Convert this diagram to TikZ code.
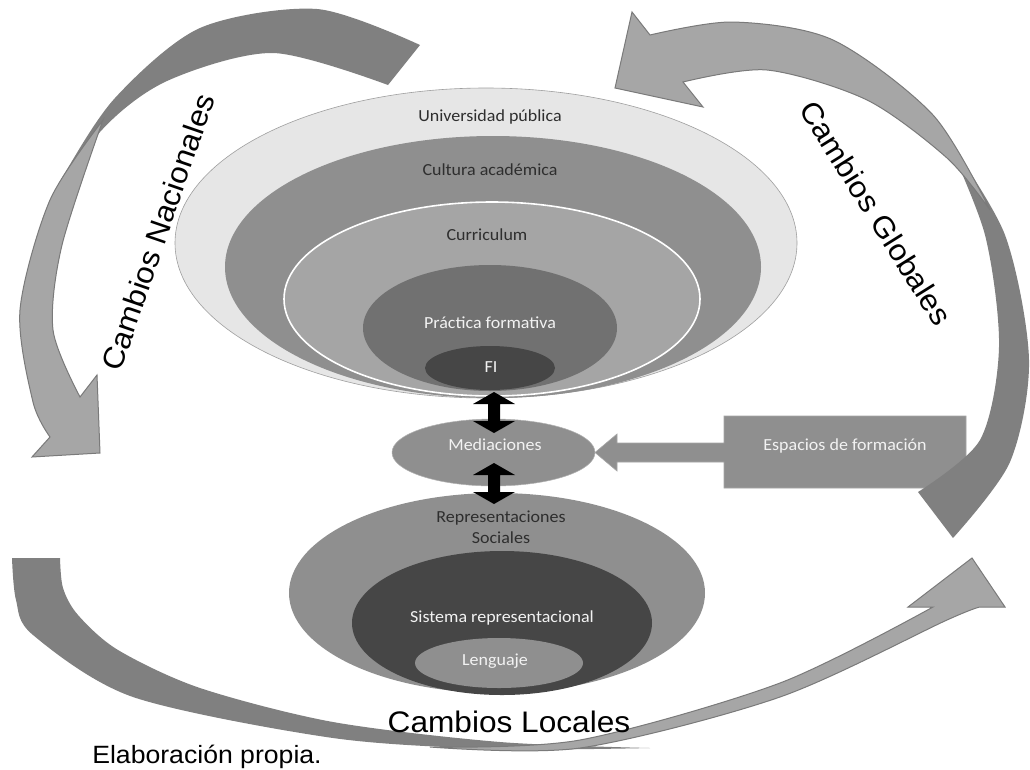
\documentclass[tikz,border=0pt]{standalone}
\usepackage{fontspec}
\usepackage{graphicx}
\setmainfont{Liberation Sans}
\newfontfamily\calibfont{Carlito}
\usetikzlibrary{shapes.geometric}

\definecolor{bandDark}{HTML}{808080}
\definecolor{bandLight}{HTML}{A6A6A6}
\definecolor{bandLine}{HTML}{7A7A7A}
\definecolor{ringPale}{HTML}{E6E6E6}
\definecolor{ringMid}{HTML}{8F8F8F}
\definecolor{ringSoft}{HTML}{A5A5A5}
\definecolor{ringDeep}{HTML}{717171}
\definecolor{ringCore}{HTML}{464646}
\definecolor{inkDark}{HTML}{2E2E2E}
\definecolor{inkLight}{HTML}{F2F2F2}

% slightly widened lettering
\newcommand\wide[1]{\scalebox{1.065}[1]{#1}}

\tikzset{
  ring/.style={ellipse, inner sep=0pt, draw=none},
  lbl/.style={font=\calibfont\fontsize{16.9}{21}\selectfont, inner sep=0pt, anchor=base, align=center},
  dlbl/.style={lbl, text=inkDark},
  llbl/.style={lbl, text=inkLight},
  biglbl/.style={font=\fontsize{29.7}{34}\selectfont, inner sep=0pt, text=black},
  backband/.style={fill=bandDark},
  frontband/.style={fill=bandLight, draw=bandLine, line width=1pt, line join=miter},
  blockarrow/.style={fill=black},
}

\begin{document}
\begin{tikzpicture}[x=1pt, y=-1pt]
\useasboundingbox (0,0) rectangle (1030,769);
\fill[white] (0,0) rectangle (1030,769);

% ---- upper nested rings ----
\node[ring, fill=ringPale, draw=gray!75, line width=0.6pt, minimum width=622pt, minimum height=310pt] (uni) at (486,243) {};
\node[ring, fill=ringMid, minimum width=536pt, minimum height=262pt] (cul) at (493,267) {};
\node[ring, fill=ringSoft, draw=white, line width=1.6pt, minimum width=416pt, minimum height=194pt] (cur) at (492,299) {};
\node[ring, fill=ringDeep, minimum width=254pt, minimum height=126pt] (pra) at (490,328) {};
\node[ring, fill=ringCore, minimum width=130pt, minimum height=44pt] (fi) at (490,368) {};

\node[dlbl] (tuni) at (490,121) {\wide{Universidad pública}};
\node[dlbl] (tcul) at (490,175) {\wide{Cultura académica}};
\node[dlbl] (tcur) at (487,240) {\wide{Curriculum}};
\node[llbl] (tpra) at (490,328) {\wide{Práctica formativa}};
\node[llbl] (tfi) at (491,372) {\wide{FI}};

% ---- mediation ----
\node[ring, fill=ringMid, draw=gray!60, line width=0.5pt, minimum width=203pt, minimum height=67pt] (med) at (493.5,452.5) {};
\node[llbl] (tmed) at (495,450) {\wide{Mediaciones}};

% ---- lower nested rings ----
\node[ring, fill=ringMid, minimum width=416pt, minimum height=200pt] (rep) at (497,593) {};
\node[ring, fill=ringCore, minimum width=300pt, minimum height=144pt] (sis) at (502,623) {};
\node[ring, fill=ringMid, minimum width=168pt, minimum height=50pt] (len) at (499,663) {};

\node[dlbl] (trep) at (501,543) {\wide{Representaciones}\\[-0.5pt]\wide{Sociales}};
\node[llbl] (tsis) at (502,622) {\wide{Sistema representacional}};
\node[llbl] (tlen) at (495,665) {\wide{Lenguaje}};

% ---- two-headed block arrows ----
\fill[blockarrow] (494,392) -- (515,404) -- (500,404) -- (500,421) -- (515,421) -- (494,433)
  -- (473,421) -- (488,421) -- (488,404) -- (473,404) -- cycle;
\fill[blockarrow] (494,463) -- (515,475) -- (500,475) -- (500,492) -- (515,492) -- (494,504)
  -- (473,492) -- (488,492) -- (488,475) -- (473,475) -- cycle;

% ---- arrow callout ----
\filldraw[fill=ringMid, draw=gray!70, line width=0.6pt]
  (724,416) -- (966,416) -- (966,488) -- (724,488) -- (724,462) -- (617,462) -- (617,471)
  -- (595,452.5) -- (617,434) -- (617,443) -- (724,443) -- cycle;
\node[llbl] (tesp) at (845,450) {\wide{Espacios de formación}};

% ---- national changes: curved arrow, upper left ----
\fill[backband] plot[smooth] coordinates {(420,45) (317,9) (200,28) (115,98) (62,178) (42,220)}
  -- plot[smooth] coordinates {(42,220) (100,132) (167,81) (273,53) (388,85)} -- cycle;
\filldraw[frontband] plot[smooth] coordinates {(103,120) (50,200) (20,310) (33,402) (50,437)}
  -- (32,457) -- (100,453) -- (97,375) -- (80,397)
  -- plot[smooth] coordinates {(80,397) (53,330) (62,245) (103,120)} -- cycle;

% ---- global changes: curved arrow, right ----
\fill[backband] plot[smooth] coordinates {(945,135) (1005,235) (1029,360) (1010,462) (953,538)}
  -- (918,492)
  -- plot[smooth] coordinates {(918,492) (980,440) (999,347) (985,235) (945,135)} -- cycle;
\filldraw[frontband] plot[smooth] coordinates {(650,35) (733,22) (833,40) (933,115) (990,210)}
  -- plot[smooth] coordinates {(990,210) (947,158) (867,100) (767,70) (683,82)}
  -- (703,107) -- (615,88) -- (632,12) -- cycle;

% ---- local changes: curved arrow, bottom ----
\fill[backband] plot[smooth] coordinates {(12,558) (16,600) (33,635) (133,697) (333,738) (500,749) (650,748)}
  -- plot[smooth] coordinates {(650,748) (500,742) (333,722) (200,688) (118,650) (78,615) (63,588) (60,558)} -- cycle;
\filldraw[frontband] plot[smooth] coordinates {(430,747) (580,748) (780,697) (947,620) (980,607)}
  -- (1005,607) -- (972,558) -- (908,607) -- (933,607)
  -- plot[smooth] coordinates {(933,607) (780,683) (580,740) (430,747)} -- cycle;

% ---- arrow captions ----
\node[biglbl, rotate=71] (tnac) at (158,232) {\wide{Cambios Nacionales}};
\node[biglbl, rotate=-58] (tglo) at (876,213) {\wide{Cambios Globales}};
\node[biglbl, anchor=base] (tloc) at (509,732) {\wide{Cambios Locales}};

% ---- source note ----
\node[font=\fontsize{25}{30}\selectfont, inner sep=0pt, anchor=base] (src) at (207,763) {\wide{Elaboración propia.}};
\end{tikzpicture}
\end{document}
